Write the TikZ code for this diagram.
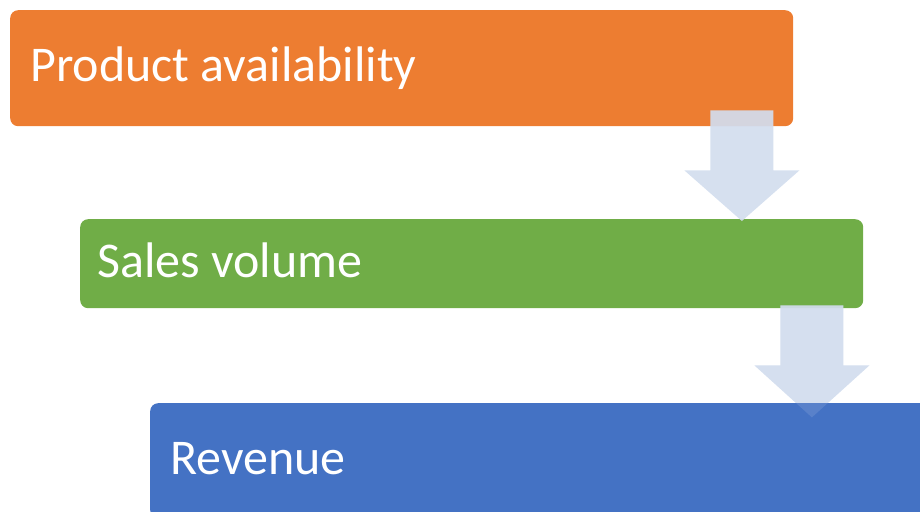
\documentclass[tikz,border=0pt]{standalone}
\usepackage{fontspec}
\setmainfont{Carlito}
\usetikzlibrary{calc}
\definecolor{prodorange}{HTML}{ED7D31}
\definecolor{salesgreen}{HTML}{70AD47}
\definecolor{revblue}{HTML}{4472C4}
\definecolor{stepblue}{HTML}{D2DDEE}
% block arrow: #2 top of the shaft, #3 tip, #1 opacity
\newcommand{\stepArrow}[3][0.92]{%
  \path[arrow fill, fill opacity=#1] ($(#2)+(-31.5,0)$) -- ($(#2)+(31.5,0)$) -- ($(#2)+(31.5,60)$)
    -- ($(#2)+(57.5,60)$) -- (#3) -- ($(#2)+(-57.5,60)$) -- ($(#2)+(-31.5,60)$) -- cycle;}
% left set text of a box, #1 width
\newcommand{\boxText}[2]{\makebox[#1][l]{#2}}
\begin{document}
\begin{tikzpicture}[x=1pt, y=-1pt,
                    box node/.style={rectangle, rounded corners=8pt, anchor=north west,
                      inner xsep=20pt, inner ysep=0pt, text=white,
                      text height=37.5pt, text depth=10pt, font=\fontsize{50}{60}\selectfont},
                    arrow fill/.style={fill=stepblue}]
  \useasboundingbox (0,0) rectangle (920,511);
  \clip (0,0) rectangle (920,511);

  \node[box node, fill=prodorange, minimum height=116pt] (1) at (10,10) {\boxText{743pt}{Product availability}};

  \coordinate (t1) at ($(1.south east)+(-51.5,-16)$);
  \node[box node, fill=salesgreen, minimum height=89pt, inner xsep=17pt] (2) at (80,219) {\boxText{749pt}{Sales volume}};
  \coordinate (p1) at ($(t1 |- 2.north)+(0,2)$);
  \stepArrow{t1}{p1}

  \coordinate (t2) at ($(2.south east)+(-51.5,-3)$);
  \coordinate (p2) at ($(t2)+(0,112)$);
  \stepArrow{t2}{p2}

  \node[box node, fill=revblue, minimum height=115pt] (3) at (150,403) {\boxText{760pt}{Revenue}};
  \stepArrow[0.15]{t2}{p2}
\end{tikzpicture}
\end{document}
